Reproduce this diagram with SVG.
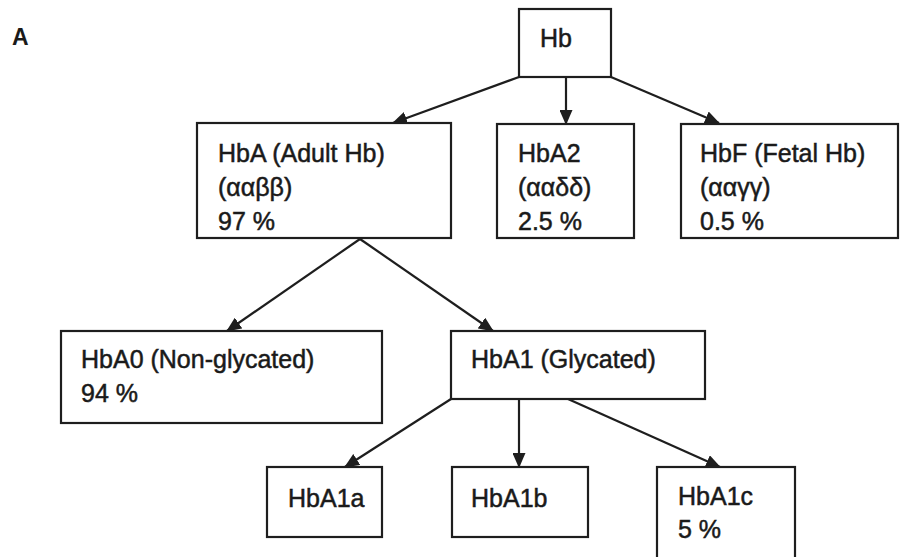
<svg xmlns="http://www.w3.org/2000/svg" width="900" height="557" viewBox="0 0 900 557">
<style>
.box{fill:#fff;stroke:#1e1e1e;stroke-width:2.2}
.t{font-family:"Liberation Sans",Arial,sans-serif;font-size:25px;fill:#1a1a1a;stroke:#1a1a1a;stroke-width:0.5}
.lbl{font-family:"Liberation Sans",Arial,sans-serif;font-size:23px;font-weight:bold;fill:#1a1a1a}
.c{stroke:#1e1e1e;stroke-width:2.2;fill:none;marker-end:url(#ah)}
</style>
<defs>
<marker id="ah" markerUnits="userSpaceOnUse" markerWidth="15" markerHeight="13" refX="14" refY="6.5" orient="auto">
<path d="M0,0 L15,6.5 L0,13 z" fill="#1e1e1e"/>
</marker>
</defs>
<rect width="900" height="557" fill="#fff"/>
<text class="lbl" x="12" y="45">A</text>
<g id="connectors">
<line class="c" x1="519" y1="77" x2="393" y2="123"/>
<line class="c" x1="566" y1="77" x2="566" y2="124"/>
<line class="c" x1="611" y1="77" x2="719" y2="123"/>
<line class="c" x1="360" y1="239" x2="227" y2="331"/>
<line class="c" x1="360" y1="239" x2="493" y2="331"/>
<line class="c" x1="451" y1="399" x2="345" y2="467"/>
<line class="c" x1="519" y1="399" x2="519" y2="467"/>
<line class="c" x1="568" y1="399" x2="720" y2="467"/>
</g>
<g id="hb"><rect class="box" x="519" y="9" width="92" height="68"/><text class="t" x="540" y="47">Hb</text></g>
<g id="hba"><rect class="box" x="197" y="123" width="254" height="115"/>
<text class="t" x="218" y="162">HbA (Adult Hb)</text><text class="t" x="218" y="196">(ααββ)</text><text class="t" x="218" y="230">97 %</text></g>
<g id="hba2"><rect class="box" x="497" y="124" width="137" height="114"/>
<text class="t" x="518" y="162">HbA2</text><text class="t" x="518" y="196">(ααδδ)</text><text class="t" x="518" y="230">2.5 %</text></g>
<g id="hbf"><rect class="box" x="681" y="124" width="217" height="114"/>
<text class="t" x="700" y="162">HbF (Fetal Hb)</text><text class="t" x="700" y="196">(ααγγ)</text><text class="t" x="700" y="230">0.5 %</text></g>
<g id="hba0"><rect class="box" x="61" y="331" width="321" height="92"/>
<text class="t" x="81" y="368">HbA0 (Non-glycated)</text><text class="t" x="81" y="402">94 %</text></g>
<g id="hba1"><rect class="box" x="451" y="331" width="254" height="68"/>
<text class="t" x="471" y="368">HbA1 (Glycated)</text></g>
<g id="hba1a"><rect class="box" x="267" y="467" width="115" height="70"/>
<text class="t" x="288" y="507">HbA1a</text></g>
<g id="hba1b"><rect class="box" x="452" y="467" width="136" height="70"/>
<text class="t" x="471" y="507">HbA1b</text></g>
<g id="hba1c"><rect class="box" x="657" y="467" width="138" height="100"/>
<text class="t" x="678" y="505">HbA1c</text><text class="t" x="678" y="538">5 %</text></g>
</svg>
